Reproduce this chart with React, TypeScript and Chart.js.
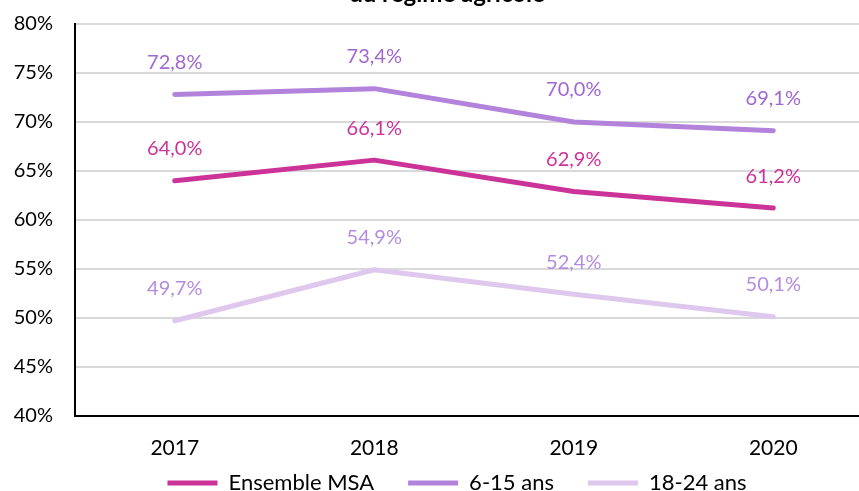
import React, { useEffect, useRef } from "react";
import { Chart, registerables } from "chart.js";

Chart.register(...registerables);

const categories = ["2017", "2018", "2019", "2020"];
const ensembleMSA = [64.0, 66.1, 62.9, 61.2];
const ages6to15 = [72.8, 73.4, 70.0, 69.1];
const ages18to24 = [49.7, 54.9, 52.4, 50.1];
const seriesNames = ["Ensemble MSA", "6-15 ans", "18-24 ans"];
const titleText = "du régime agricole";
const yMin = 40;
const yMax = 80;
const yStep = 5;

const lineColors = ["#CC3399", "#B382DB", "#DEC8EE"];
const labelColors = ["#CC3399", "#A067D2", "#B48CDF"];

const fmt = (v: number) => v.toFixed(1).replace(".", ",") + "%";

const dataLabelPlugin = {
  id: "dataLabels",
  afterDatasetsDraw(chart: any) {
    const ctx = chart.ctx;
    ctx.save();
    ctx.font = "20px Lato";
    ctx.textAlign = "center";
    ctx.textBaseline = "middle";
    chart.data.datasets.forEach((ds: any, i: number) => {
      const meta = chart.getDatasetMeta(i);
      meta.data.forEach((pt: any, j: number) => {
        ctx.fillStyle = labelColors[i];
        ctx.fillText(fmt(ds.data[j]), pt.x, pt.y - 32);
      });
    });
    ctx.restore();
  },
};

const shiftPlugin = {
  id: "shiftBlocks",
  afterLayout(chart: any) {
    const t = chart.titleBlock;
    if (t) {
      t.left += 10.5;
      t.right += 10.5;
    }
    const l = chart.legend;
    if (l) {
      l.left += 20.5;
      l.right += 20.5;
      l.top -= 23;
      l.bottom -= 23;
    }
  },
};

export default function App() {
  const ref = useRef<HTMLCanvasElement | null>(null);
  useEffect(() => {
    if (!ref.current) return;
    const seriesData = [ensembleMSA, ages6to15, ages18to24];
    const chart = new Chart(ref.current, {
      type: "line",
      data: {
        labels: categories,
        datasets: seriesData.map((d, i) => ({
          label: seriesNames[i],
          data: d,
          borderColor: lineColors[i],
          backgroundColor: lineColors[i],
          borderWidth: 5,
          borderCapStyle: "round",
          borderJoinStyle: "round",
          pointRadius: 0,
          pointStyle: "line",
          tension: 0,
          fill: false,
        })),
      },
      options: {
        responsive: false,
        animation: false,
        layout: { padding: { left: 0, right: 21, top: 0, bottom: 0 } },
        plugins: {
          title: {
            display: true,
            text: titleText,
            color: "#000",
            font: { family: "Lato", size: 24, weight: "bold", lineHeight: 1.2 },
            padding: { top: 0, bottom: 15.2 },
          },
          legend: {
            position: "bottom",
            labels: {
              usePointStyle: true,
              pointStyle: "line",
              pointStyleWidth: 50,
              padding: 34,
              color: "#000",
              font: { family: "Lato", size: 22 },
            },
          },
          tooltip: { enabled: false },
        },
        scales: {
          x: {
            offset: true,
            grid: { display: false, drawTicks: false },
            border: { display: true, color: "#000", width: 2 },
            ticks: {
              color: "#000",
              padding: 20,
              font: { family: "Lato", size: 21 },
            },
            afterFit: (s: any) => {
              s.height = 45.3;
            },
          },
          y: {
            min: yMin,
            max: yMax,
            grid: { color: "#D9D9D9", lineWidth: 2, drawTicks: false },
            border: { display: true, color: "#000", width: 2 },
            ticks: {
              stepSize: yStep,
              color: "#000",
              padding: 22,
              font: { family: "Lato", size: 20 },
              callback: (v: any) => v + "%",
            },
            afterFit: (s: any) => {
              s.width = 75;
            },
          },
        },
      },
      plugins: [dataLabelPlugin, shiftPlugin],
    });
    return () => chart.destroy();
  }, []);

  return (
    <div
      style={{
        position: "fixed",
        left: 0,
        top: 0,
        width: 859,
        height: 491,
        overflow: "hidden",
        background: "#fff",
      }}
    >
      <canvas
        ref={ref}
        width={894}
        height={547}
        style={{ position: "absolute", left: 0, top: -20, display: "block" }}
      />
    </div>
  );
}
